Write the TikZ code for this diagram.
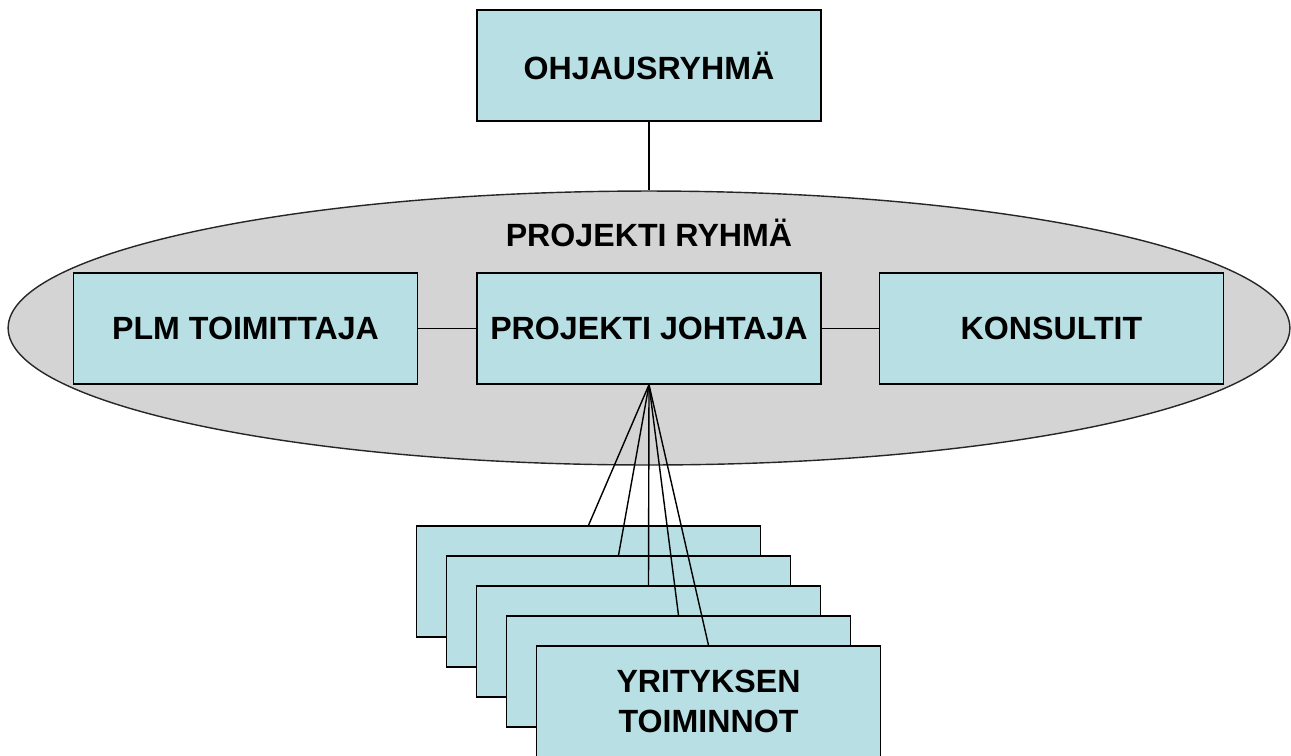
\documentclass[tikz,border=0pt]{standalone}
\usepackage{fontspec}
\setmainfont{Liberation Sans}
\usetikzlibrary{shapes.geometric}
\definecolor{boxblue}{RGB}{184,223,227}
\definecolor{ryhmagray}{RGB}{212,212,212}

\tikzset{
	orgbox/.style={shape=rectangle, draw=black, fill=boxblue, line width=0.8pt,
		minimum width=6.88cm, minimum height=2.22cm, align=center,
		font=\bfseries\fontsize{18.3}{22.5}\selectfont},
	conn/.style={-, black, line width=0.8pt}
}

\begin{document}
\begin{tikzpicture}[x=0.02cm, y=-0.02cm]
		\useasboundingbox (0,0) rectangle (1291,755);
		
		\node[shape=ellipse, draw=black!85, fill=ryhmagray, line width=0.8pt, minimum width=25.64cm, minimum height=5.48cm] (ryhma) at (649,328) {};
		\node[font=\bfseries\fontsize{18.3}{22.5}\selectfont] (ryhmateksti) at (649,233) {PROJEKTI RYHMÄ};
		
		\node[orgbox] (ohjaus) at (649,65.5) {OHJAUSRYHMÄ};
		
		\node[orgbox] (plm) at (245.5,328.5) {PLM TOIMITTAJA};
		\node[orgbox] (johtaja) at (649,328.5) {PROJEKTI JOHTAJA};
		\node[orgbox] (konsultit) at (1051.5,328.5) {KONSULTIT};
		
		% yrityksen toiminnot, pinossa
		\foreach \i/\txt in {1/,2/,3/,4/,5/{YRITYKSEN\\TOIMINNOT}}
			\node[orgbox] (toim\i) at ({588.5+30*(\i-1)},{581.5+30*(\i-1)}) {\txt};
		
		\path [conn] (ohjaus) edge (ryhma.north);
		\path [conn] (plm) edge (johtaja);
		\path [conn] (johtaja) edge (konsultit);
		
		\foreach \i in {1,...,5}
			\path [conn] (johtaja.south) edge (toim\i.north);
		
		\end{tikzpicture}
\end{document}
